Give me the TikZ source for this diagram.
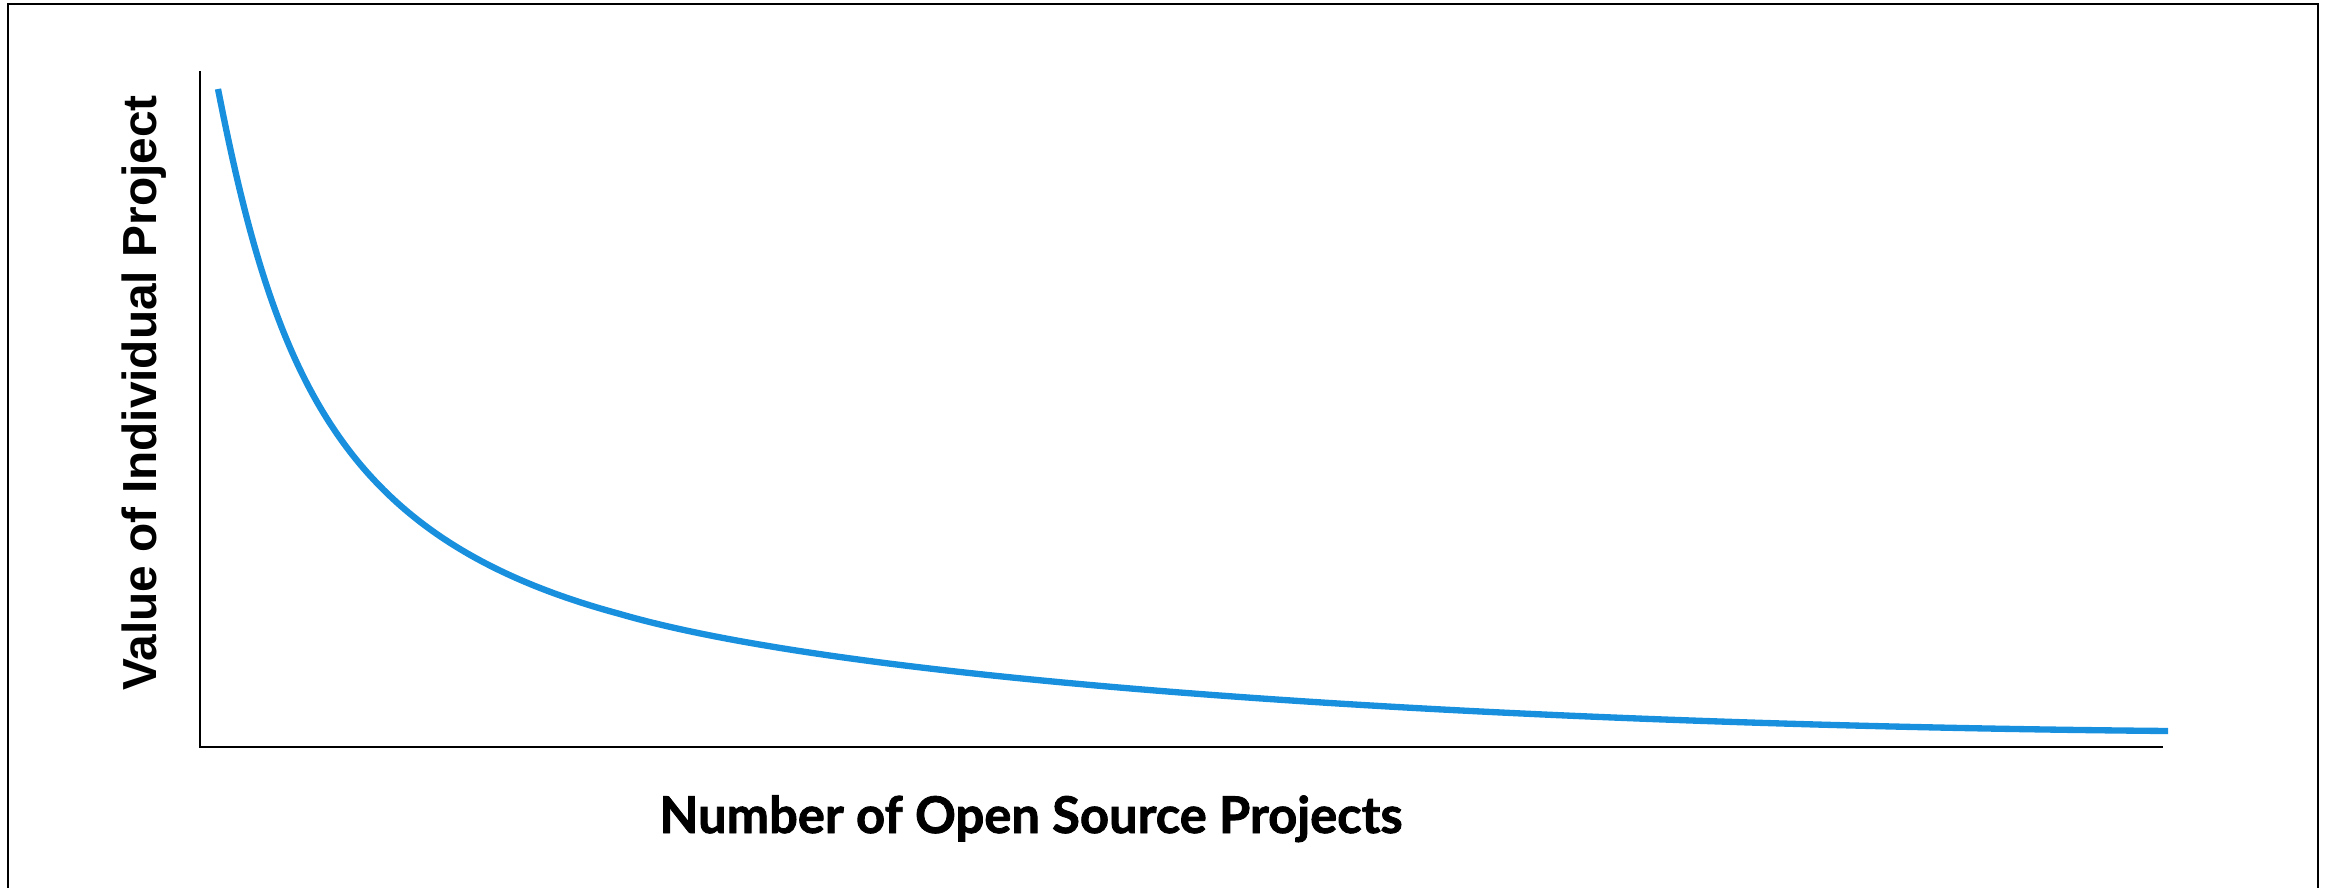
\documentclass[tikz,border=0pt]{standalone}
\usepackage{fontspec}
\setmainfont{Liberation Sans}
\newfontfamily\xlabelfont{Lato}[BoldFeatures={FakeBold=1.6}]
\definecolor{curveblue}{RGB}{24,144,222}
\begin{document}
\begin{tikzpicture}[x=0.01cm,y=-0.01cm,
        axisline/.style={line width=0.75pt,black},
        curveline/.style={line width=1.8pt,curveblue}]
            \useasboundingbox (0,0) rectangle (2330,888);
            \draw[line width=0.6pt] (8,888) -- (8,4) -- (2318,4) -- (2318,888);
            \coordinate (ytop) at (200,71);
            \coordinate (origin) at (200,747);
            \coordinate (xend) at (2163,747);
            \draw[axisline] (ytop) -- (origin) -- (xend);
            \draw[curveline] (218,89) .. controls (276,385) and (345,540) .. (620,614)
                .. controls (860,684) and (1500,725) .. (2168,731);
            \node[anchor=base,inner sep=0pt,font=\xlabelfont\bfseries\fontsize{14.4pt}{16pt}\selectfont] (xlabel) at (1031,833) {Number of Open Source Projects};
            \node[anchor=base,rotate=90,inner sep=0pt,font=\bfseries\fontsize{13.6pt}{15pt}\selectfont] (ylabel) at (156,393) {Value of Individual Project};
        \end{tikzpicture}
\end{document}
